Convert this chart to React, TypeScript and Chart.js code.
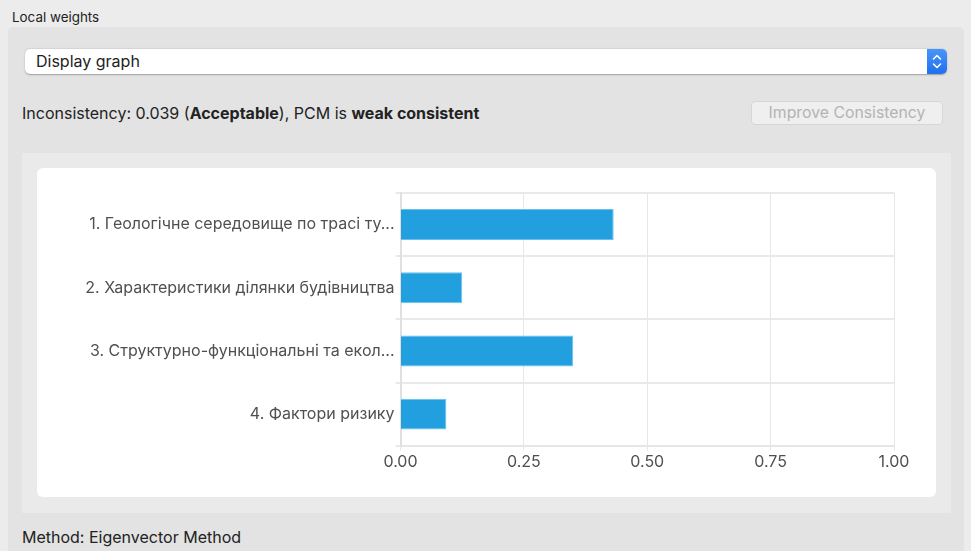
import React, { useEffect, useRef } from "react";
import { Chart, registerables } from "chart.js";

Chart.register(...registerables);

const categories = [
  "1. Геологічне середовище по трасі ту...",
  "2. Характеристики ділянки будівництва",
  "3. Структурно-функціональні та екол...",
  "4. Фактори ризику",
];
const weights = [0.432, 0.125, 0.35, 0.093];
const xTickValues = [0, 0.25, 0.5, 0.75, 1];

const FONT = "Inter, 'Noto Sans', sans-serif";

function BarChart() {
  const ref = useRef<HTMLCanvasElement | null>(null);
  useEffect(() => {
    if (!ref.current) return;
    const chart = new Chart(ref.current, {
      type: "bar",
      data: {
        labels: categories,
        datasets: [
          {
            data: weights,
            backgroundColor: "#219fdf",
            borderColor: "#6cc0ec",
            borderWidth: 1,
            borderSkipped: "start",
            barPercentage: 0.49,
            categoryPercentage: 1,
          },
        ],
      },
      options: {
        indexAxis: "y",
        responsive: false,
        animation: false,
        layout: { padding: { top: 25, right: 42, left: 0, bottom: 0 } },
        plugins: { legend: { display: false }, tooltip: { enabled: false } },
        scales: {
          x: {
            min: xTickValues[0],
            max: xTickValues[xTickValues.length - 1],
            afterBuildTicks: (s: any) => {
              s.ticks = xTickValues.map((v) => ({ value: v }));
            },
            afterFit: (s: any) => {
              s.height = 51.3;
            },
            ticks: {
              callback: (v: any) => Number(v).toFixed(2),
              color: "#505050",
              font: { family: FONT, size: 16 },
              padding: 2,
            },
            grid: { color: "#e6e6e6", lineWidth: 1, tickLength: 5 },
            border: { color: "#e6e6e6", width: 2 },
          },
          y: {
            afterFit: (s: any) => {
              s.width = 363.5;
            },
            ticks: {
              color: "#505050",
              font: { family: FONT, size: 16 },
              padding: 1,
            },
            grid: { color: "#e9e9e9", lineWidth: 2, offset: true, tickLength: 5 },
            border: { color: "#e0e0e0", width: 2 },
          },
        },
      },
    });
    return () => chart.destroy();
  }, []);
  return <canvas ref={ref} width={899} height={329} style={{ display: "block" }} />;
}

export default function App() {
  const text: React.CSSProperties = {
    position: "absolute",
    fontFamily: FONT,
    color: "#222",
    whiteSpace: "nowrap",
  };
  return (
    <div
      style={{
        position: "fixed",
        left: 0,
        top: 0,
        width: 971,
        height: 551,
        background: "#ececec",
        overflow: "hidden",
      }}
    >
      <div style={{ ...text, left: 12, top: 9, fontSize: 13.4, lineHeight: "16px" }}>Local weights</div>
      <div
        style={{
          position: "absolute",
          left: 8,
          top: 27,
          width: 956,
          height: 540,
          background: "#e3e3e3",
          borderRadius: 5,
        }}
      />
      {/* select */}
      <div
        style={{
          position: "absolute",
          left: 25,
          top: 49,
          width: 922,
          height: 25,
          background: "#ffffff",
          borderRadius: 5,
          boxShadow: "0 0.5px 1.5px rgba(0,0,0,0.3)",
          overflow: "hidden",
        }}
      >
        <div style={{ ...text, left: 11, top: 0, fontSize: 16, lineHeight: "25px" }}>Display graph</div>
        <div
          style={{
            position: "absolute",
            right: 0,
            top: 0,
            width: 20,
            height: 25,
            background: "linear-gradient(#4a95f9, #1f6ff0)",
          }}
        >
          <svg width="20" height="25" viewBox="0 0 20 25">
            <path d="M6.5 10 L10 6.5 L13.5 10" stroke="#fff" strokeWidth="1.6" fill="none" strokeLinecap="round" strokeLinejoin="round" />
            <path d="M6.5 15 L10 18.5 L13.5 15" stroke="#fff" strokeWidth="1.6" fill="none" strokeLinecap="round" strokeLinejoin="round" />
          </svg>
        </div>
      </div>
      <div style={{ ...text, left: 22, top: 103, fontSize: 16, lineHeight: "20px" }}>
        Inconsistency: 0.039 (<b>Acceptable</b>), PCM is <b>weak consistent</b>
      </div>
      <div
        style={{
          position: "absolute",
          left: 751,
          top: 101,
          width: 190,
          height: 22,
          background: "#efefef",
          border: "1px solid #d6d6d6",
          borderRadius: 4,
          fontFamily: FONT,
          fontSize: 15.8,
          lineHeight: "22px",
          color: "#b3b3b3",
          textAlign: "center",
        }}
      >
        Improve Consistency
      </div>
      {/* chart box */}
      <div
        style={{
          position: "absolute",
          left: 22,
          top: 153,
          width: 929,
          height: 360,
          background: "#eaeaea",
        }}
      />
      <div
        style={{
          position: "absolute",
          left: 37,
          top: 168,
          width: 899,
          height: 329,
          background: "#ffffff",
          borderRadius: 6,
          overflow: "hidden",
        }}
      >
        <BarChart />
      </div>
      <div style={{ ...text, left: 22, top: 527, fontSize: 16, lineHeight: "20px" }}>
        Method: Eigenvector Method
      </div>
    </div>
  );
}
